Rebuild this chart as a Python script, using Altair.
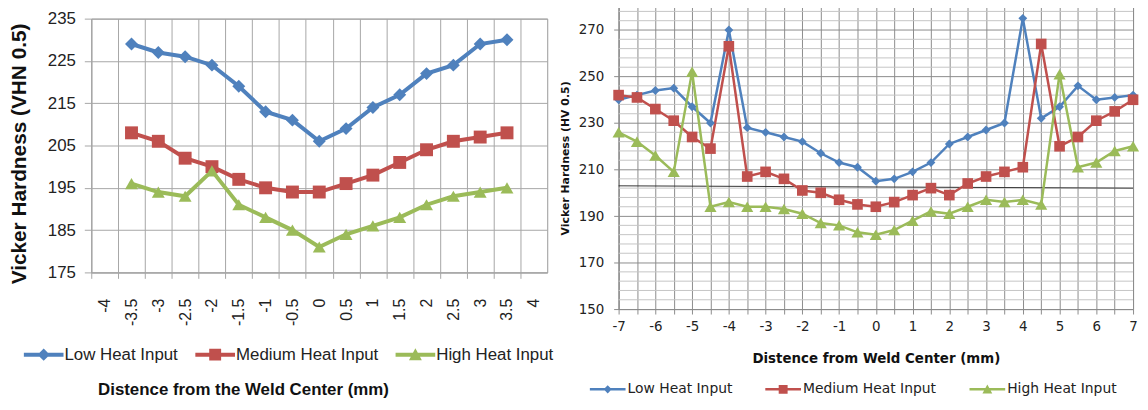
import altair as alt
import pandas as pd

# ---------------- data ----------------
series_names = ["Low Heat Input", "Medium Heat Input", "High Heat Input"]
series_colors = ["#4F81BD", "#C0504D", "#9BBB59"]

# left panel
left_x = [-3.5, -3, -2.5, -2, -1.5, -1, -0.5, 0, 0.5, 1, 1.5, 2, 2.5, 3, 3.5]
left_low = [229, 227, 226, 224, 219, 213, 211, 206, 209, 214, 217, 222, 224, 229, 230]
left_med = [208, 206, 202, 200, 197, 195, 194, 194, 196, 198, 201, 204, 206, 207, 208]
left_high = [196, 194, 193, 199, 191, 188, 185, 181, 184, 186, 188, 191, 193, 194, 195]
left_x_ticks = [-4, -3.5, -3, -2.5, -2, -1.5, -1, -0.5, 0, 0.5, 1, 1.5, 2, 2.5, 3, 3.5, 4]
left_y_ticks = [175, 185, 195, 205, 215, 225, 235]

# right panel
right_x = [-7, -6.5, -6, -5.5, -5, -4.5, -4, -3.5, -3, -2.5, -2, -1.5, -1, -0.5, 0,
           0.5, 1, 1.5, 2, 2.5, 3, 3.5, 4, 4.5, 5, 5.5, 6, 6.5, 7]
right_low = [240, 242, 244, 245, 237, 230, 270, 228, 226, 224, 222, 217, 213, 211, 205,
             206, 209, 213, 221, 224, 227, 230, 275, 232, 237, 246, 240, 241, 242]
right_med = [242, 241, 236, 231, 224, 219, 263, 207, 209, 206, 201, 200, 197, 195, 194,
             196, 199, 202, 199, 204, 207, 209, 211, 264, 220, 224, 231, 235, 240]
right_high = [226, 222, 216, 209, 252, 194, 196, 194, 194, 193, 191, 187, 186, 183, 182,
              184, 188, 192, 191, 194, 197, 196, 197, 195, 251, 211, 213, 218, 220]
right_x_grid = [-7, -6.5, -6, -5.5, -5, -4.5, -4, -3.5, -3, -2.5, -2, -1.5, -1, -0.5, 0,
                0.5, 1, 1.5, 2, 2.5, 3, 3.5, 4, 4.5, 5, 5.5, 6, 6.5, 7]
right_y_major = [150, 170, 190, 210, 230, 250, 270]
right_y_minor_step = 4
right_y_domain = [150, 280]
stray_x = [-7, 7]
stray_y = [203, 202]


def long_df(xs, lists):
    rows = []
    for name, vals in zip(series_names, lists):
        for x, v in zip(xs, vals):
            rows.append({"x": x, "v": v, "series": name})
    return pd.DataFrame(rows)


df1 = long_df(left_x, [left_low, left_med, left_high])
df2 = long_df(right_x, [right_low, right_med, right_high])
df_stray = pd.DataFrame({"x": stray_x, "v": stray_y})
minor_vals = [v for v in range(right_y_domain[0], right_y_domain[1], right_y_minor_step)
              if v not in right_y_major]
df_minor = pd.DataFrame({"v": minor_vals})


def legend_paths(t, d, s, tri):
    line = f"M-1,{-t}H3V{t}H-1Z"
    dia = f"M1,{-d}L{1 + d},0L1,{d}L{1 - d},0Z"
    sq = f"M{1 - s},{-s}H{1 + s}V{s}H{1 - s}Z"
    tr = f"M1,{-tri}L{1 + tri},{tri * 0.85}H{1 - tri}Z"
    return [line + dia, line + sq, line + tr]


marker_shapes = ["diamond", "square", "triangle-up"]

# ---------------- left panel ----------------
W1, H1 = 460, 256
F1 = "Liberation Sans, Arial, sans-serif"
G1 = "#a6a6a6"
TXT = "#222222"

lx_bounds = [t - 0.25 for t in left_x_ticks]
lx = alt.X(
    "x:Q",
    scale=alt.Scale(domain=[left_x_ticks[0] - 0.25, left_x_ticks[-1] + 0.25], nice=False, zero=False),
    axis=alt.Axis(
        values=lx_bounds,
        labelExpr="'' + (datum.value + 0.25)",
        labelOffset=W1 / len(left_x_ticks) / 2,
        labelAngle=270,
        labelFlush=False,
        labelOverlap=False,
        labelFont=F1,
        labelFontSize=16,
        labelColor=TXT,
        labelPadding=20,
        tickSize=6,
        tickColor=G1,
        grid=True,
        gridColor=G1,
        domainColor=G1,
        title="Distence from the Weld Center (mm)",
        titleFont=F1,
        titleFontSize=17,
        titleFontWeight="bold",
        titleColor="#111111",
        titleX=153,
        titleY=118,
        titleBaseline="middle",
    ),
)
ly = alt.Y(
    "v:Q",
    scale=alt.Scale(domain=[left_y_ticks[0], left_y_ticks[-1]], nice=False, zero=False),
    axis=alt.Axis(
        values=left_y_ticks,
        labelFont=F1,
        labelFontSize=17,
        labelColor=TXT,
        labelPadding=9,
        tickSize=7,
        tickColor=G1,
        grid=True,
        gridColor=G1,
        domainColor=G1,
        title="Vicker Hardness (VHN 0.5)",
        titleFont=F1,
        titleFontSize=21,
        titleFontWeight="bold",
        titleColor="#111111",
        titleX=-72,
        titleY=136,
        titleAngle=270,
        titleAlign="center",
        titleBaseline="middle",
    ),
)

leg1 = alt.Legend(
    title=None, orient="none", legendX=-68, legendY=329, direction="horizontal",
    columns=3, symbolSize=400, symbolStrokeWidth=0, labelOffset=21, columnPadding=17,
    labelFont=F1, labelFontSize=17, labelColor=TXT, padding=0, symbolOpacity=1,
)

cs = alt.Scale(domain=series_names, range=series_colors)
line1 = alt.Chart(df1).mark_line(strokeWidth=4).encode(
    x=lx, y=ly, color=alt.Color("series:N", scale=cs, legend=None), detail="series:N",
)
pts1 = alt.Chart(df1).mark_point(filled=True, opacity=1, size=170).encode(
    x=lx, y=ly,
    color=alt.Color("series:N", scale=cs, legend=None),
    shape=alt.Shape("series:N", scale=alt.Scale(domain=series_names, range=marker_shapes), legend=None),
)
legl1 = alt.Chart(df1).transform_filter("datum.v < 0").mark_point(filled=True, opacity=1).encode(
    x=lx, y=ly,
    color=alt.Color("series:N", scale=cs, legend=leg1),
    shape=alt.Shape("series:N", scale=alt.Scale(domain=series_names,
                                                range=legend_paths(0.2, 0.62, 0.6, 0.65)), legend=leg1),
)
left_main = alt.layer(line1, pts1, legl1).resolve_scale(
    color="independent", shape="independent"
).properties(width=W1, height=H1)

spacer = alt.Chart(df_stray).transform_filter("datum.v < 0").mark_point(opacity=0).encode(
    x=alt.X("x:Q", axis=None), y=alt.Y("v:Q", axis=None)
).properties(width=W1, height=1, view=alt.ViewBackground(stroke="transparent"))

left = alt.vconcat(spacer, left_main, spacing=0)

# ---------------- right panel ----------------
W2, H2 = 519, 305
F2 = "DejaVu Sans, Verdana, sans-serif"
G2 = "#8c8c8c"
G2m = "#c4c4c4"

rx = alt.X(
    "x:Q",
    scale=alt.Scale(domain=[right_x_grid[0], right_x_grid[-1]], nice=False, zero=False),
    axis=alt.Axis(
        values=right_x_grid,
        labelExpr="datum.value % 1 === 0 ? '' + datum.value : ''",
        labelFlush=False,
        labelOverlap=False,
        labelFont=F2,
        labelFontSize=13.5,
        labelColor=TXT,
        labelPadding=6,
        tickSize=5,
        tickColor=G2,
        grid=True,
        gridColor=G2,
        domainColor=G2,
        title="Distence from  Weld Center (mm)",
        titleFont=F2,
        titleFontSize=13.5,
        titleFontWeight="bold",
        titleColor="#111111",
        titleY=50,
        titleBaseline="middle",
    ),
)
ry = alt.Y(
    "v:Q",
    scale=alt.Scale(domain=right_y_domain, nice=False, zero=False),
    axis=alt.Axis(
        values=right_y_major,
        labelExpr="'' + datum.value",
        labelOverlap=False,
        labelFont=F2,
        labelFontSize=13.5,
        labelColor=TXT,
        labelPadding=10,
        tickSize=5,
        tickColor=G2,
        grid=True,
        gridColor=G2,
        domainColor=G2,
        title="Vicker Hardness (HV 0.5)",
        titleFont=F2,
        titleFontSize=11,
        titleFontWeight="bold",
        titleColor="#111111",
        titlePadding=8,
    ),
)

leg2 = alt.Legend(
    title=None, orient="none", legendX=-29, legendY=377, direction="horizontal",
    columns=3, symbolSize=324, symbolStrokeWidth=0, labelOffset=20, columnPadding=33,
    labelFont=F2, labelFontSize=14, labelColor=TXT, padding=0, symbolOpacity=1,
)

minor = alt.Chart(df_minor).mark_rule(color=G2m, strokeWidth=1).encode(y=ry)
stray = alt.Chart(df_stray).mark_line(strokeWidth=1, color="#333333").encode(x=rx, y=ry)
line2 = alt.Chart(df2).mark_line(strokeWidth=2.5).encode(
    x=rx, y=ry, color=alt.Color("series:N", scale=cs, legend=None), detail="series:N",
)
pts2 = alt.Chart(df2).mark_point(filled=True, opacity=1).encode(
    x=rx, y=ry,
    color=alt.Color("series:N", scale=cs, legend=None),
    shape=alt.Shape("series:N", scale=alt.Scale(domain=series_names, range=marker_shapes), legend=None),
    size=alt.Size("series:N", scale=alt.Scale(domain=series_names, range=[80, 150, 110]), legend=None),
)
legl2 = alt.Chart(df2).transform_filter("datum.v < 0").mark_point(filled=True, opacity=1).encode(
    x=rx, y=ry,
    color=alt.Color("series:N", scale=cs, legend=leg2),
    shape=alt.Shape("series:N", scale=alt.Scale(domain=series_names,
                                                range=legend_paths(0.14, 0.45, 0.5, 0.55)), legend=leg2),
)
right = alt.layer(minor, stray, line2, pts2, legl2).resolve_scale(
    color="independent", shape="independent"
).properties(width=W2, height=H2)

chart = alt.hconcat(left, right, spacing=3).resolve_scale(
    color="independent", shape="independent", size="independent"
).properties(
    padding={"left": 0, "top": -4, "right": 0, "bottom": 0}, background="white"
).configure_view(stroke="#999999")

chart.save("out.html", embed_options={"renderer": "svg", "actions": False})
